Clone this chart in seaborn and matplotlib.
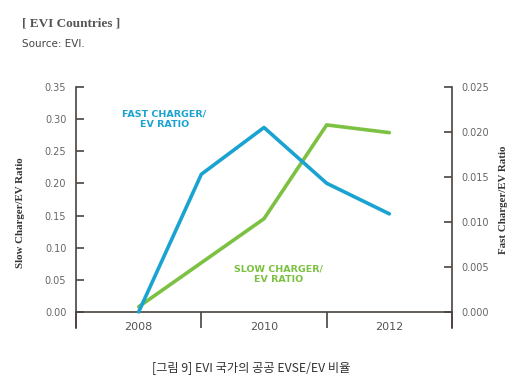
import matplotlib
matplotlib.use("Agg")
import matplotlib.pyplot as plt
import seaborn as sns
import pandas as pd

# slow charger / EV ratio (left axis)
slow_years = [2008, 2010, 2011, 2012]
slow_ratio = [0.008, 0.145, 0.291, 0.279]

# fast charger / EV ratio (right axis)
fast_years = [2008, 2009, 2010, 2011, 2012]
fast_ratio = [0.000, 0.0153, 0.0205, 0.0143, 0.0109]

year_labels = ["2008", "2010", "2012"]
left_ticks = [0.00, 0.05, 0.10, 0.15, 0.20, 0.25, 0.30, 0.35]
right_ticks = [0.000, 0.005, 0.010, 0.015, 0.020, 0.025]

BLUE = "#1aa3d1"
GREEN = "#7cc142"
AXIS = "#4a4340"
TICKTXT = "#666666"

sns.set_theme(style="white")
plt.rcParams["font.family"] = ["DejaVu Sans"]

slow_df = pd.DataFrame({"year": slow_years, "ratio": slow_ratio})
fast_df = pd.DataFrame({"year": fast_years, "ratio": fast_ratio})

fig = plt.figure(figsize=(5.18, 3.9), dpi=100)
fig.patch.set_facecolor("white")
ax = fig.add_axes([0.1467, 0.159, 0.8726 - 0.1467, 0.7769 - 0.159])
ax2 = ax.twinx()

sns.lineplot(data=slow_df, x="year", y="ratio", ax=ax, color=GREEN, linewidth=2.6)
sns.lineplot(data=fast_df, x="year", y="ratio", ax=ax2, color=BLUE, linewidth=2.6)

ax.set_xlim(2007, 2013)
ax.set_ylim(-0.025, 0.35)
ax2.set_ylim(-0.025 * 0.025 / 0.35, 0.025)

# spines
for a in (ax, ax2):
    a.set_facecolor("none")
    a.spines["top"].set_visible(False)
    for s in a.spines.values():
        s.set_color(AXIS)
        s.set_linewidth(1.2)
ax.spines["right"].set_visible(False)
ax2.spines["left"].set_visible(False)
ax2.spines["bottom"].set_visible(False)
ax2.spines["right"].set_visible(True)
ax.spines["bottom"].set_position(("data", 0))

# x axis: separators as major ticks, year labels as minor ticks
ax.set_xticks([2007, 2009, 2011, 2013])
ax.set_xticklabels([])
ax.set_xticks([2008, 2010, 2012], minor=True)
ax.set_xticklabels(year_labels, minor=True)
ax.tick_params(axis="x", which="major", direction="out", length=11.5, width=1.2,
               color=AXIS, bottom=True)
ax.tick_params(axis="x", which="minor", length=0, pad=7, labelsize=8,
               labelcolor="#555555", bottom=True)

# y axes
ax.set_yticks(left_ticks)
ax.set_yticklabels([f"{v:.2f}" for v in left_ticks])
ax.tick_params(axis="y", direction="in", length=6, width=1.2, color=AXIS,
               pad=7, labelsize=7, labelcolor=TICKTXT, left=True)
ax2.set_yticks(right_ticks)
ax2.set_yticklabels([f"{v:.3f}" for v in right_ticks])
ax2.tick_params(axis="y", direction="in", length=6, width=1.2, color=AXIS,
                pad=7, labelsize=7, labelcolor=TICKTXT, right=True)

ax.set_xlabel("")
ax.set_ylabel("Slow Charger/EV Ratio", family="Liberation Serif", fontweight="bold",
              fontsize=7.8, color="#333333", labelpad=12)
ax.yaxis.set_label_coords(-0.135, 0.48)
ax2.set_ylabel("Fast Charger/EV Ratio", family="Liberation Serif", fontweight="bold",
               fontsize=7.8, color="#333333", rotation=90)
ax2.yaxis.set_label_coords(1.125, 0.53)

# series annotations
ax.text(2008.41, 0.300, "FAST CHARGER/\nEV RATIO", color=BLUE, fontsize=6.8,
        fontweight="bold", ha="center", va="center", linespacing=1.25)
ax.text(2010.23, 0.059, "SLOW CHARGER/\nEV RATIO", color=GREEN, fontsize=6.8,
        fontweight="bold", ha="center", va="center", linespacing=1.25)

# header and caption
fig.text(22 / 518, 1 - 24 / 390, "[ EVI Countries ]", family="Liberation Serif",
         fontweight="bold", fontsize=9.5, color="#555555", va="center")
fig.text(22 / 518, 1 - 44 / 390, "Source: EVI.", fontsize=7.5, color="#444444",
         va="center")
fig.text(251 / 518, 1 - 368 / 390, "[그림 9] EVI 국가의 공공 EVSE/EV 비율",
         family=["Noto Sans CJK KR", "DejaVu Sans"], fontsize=8.8, color="#333333",
         ha="center", va="center")

fig.savefig("out.png", dpi=100)
